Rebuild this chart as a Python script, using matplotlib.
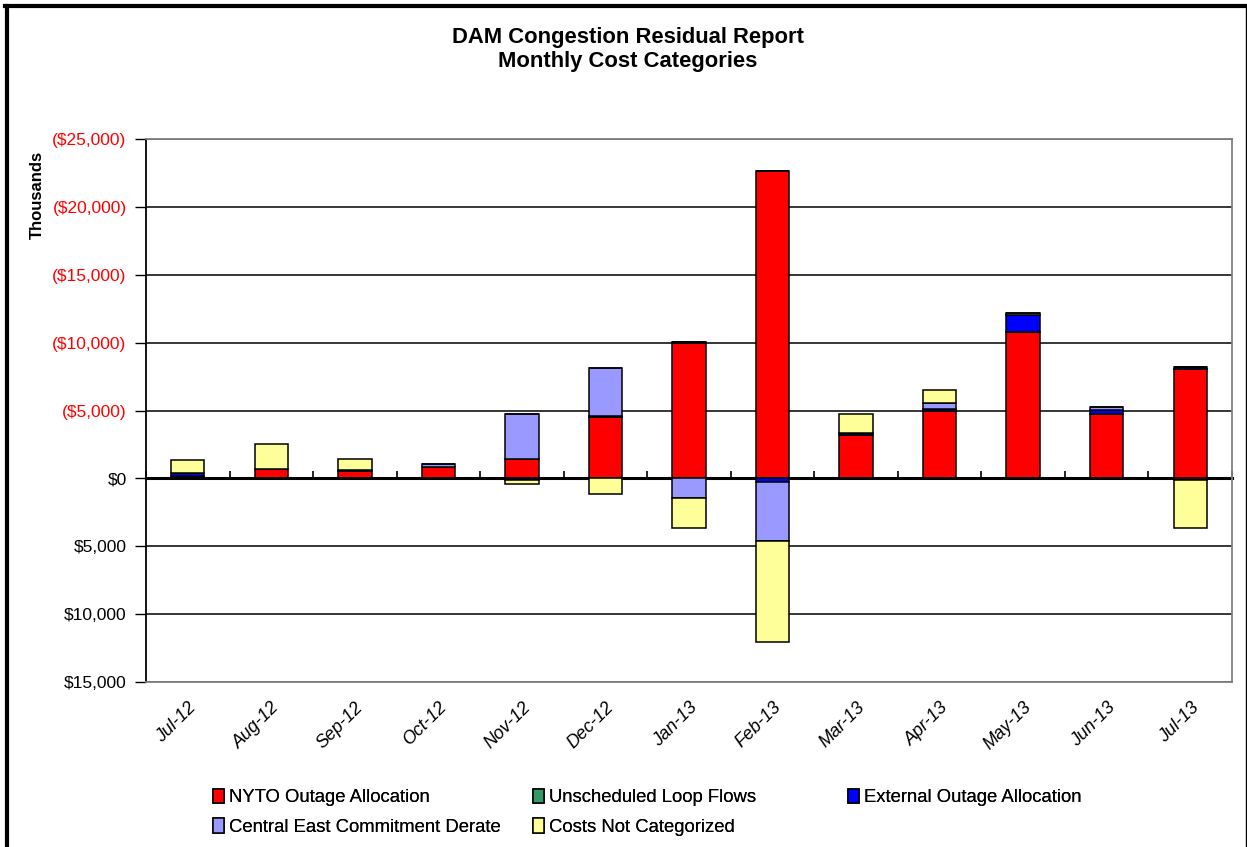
import numpy as np
import matplotlib.pyplot as plt
from matplotlib.lines import Line2D
from matplotlib.ticker import FixedLocator

plt.rcParams["font.family"] = ["Liberation Sans", "DejaVu Sans"]

# values in thousands of $, positive = cost (plotted upward)
months = ["Jul-12", "Aug-12", "Sep-12", "Oct-12", "Nov-12", "Dec-12", "Jan-13",
          "Feb-13", "Mar-13", "Apr-13", "May-13", "Jun-13", "Jul-13"]
nyto = [200, 660, 515, 810, 1400, 4490, 9940, 22660, 3220, 4930, 10800, 4740, 8050]
loop_flows = [0, 0, 0, 0, 0, 0, 0, 0, 0, 0, 0, 0, 0]
external = [180, 0, 100, 0, -100, 100, 80, -300, 100, 150, 1250, 320, 150]
central_east = [0, 0, 0, 250, 3340, 3530, -1420, -4320, 0, 490, 100, 170, 0]
not_categorized = [1000, 1870, 785, 0, -300, -1130, -2260, -7440, 1420, 930, 0, 0, -3510]
jul13_neg_nyto = -150

series = [
    ("NYTO Outage Allocation", nyto, "#FF0000"),
    ("Unscheduled Loop Flows", loop_flows, "#339966"),
    ("External Outage Allocation", external, "#0000FF"),
    ("Central East Commitment Derate", central_east, "#9999FF"),
    ("Costs Not Categorized", not_categorized, "#FFFF99"),
]

fig = plt.figure(figsize=(12.47, 8.47), dpi=100)
ax = fig.add_axes([146 / 1247, 1 - 682 / 847, 1086 / 1247, 543 / 847])

x = np.arange(len(months))
width = 0.4
pos_base = np.zeros(len(months))
neg_base = np.zeros(len(months))
handles = {}
for name, vals, color in series:
    v = np.array(vals, dtype=float)
    if name == "NYTO Outage Allocation":
        v_neg = np.zeros(len(months))
        v_neg[-1] = jul13_neg_nyto
    else:
        v_neg = np.where(v < 0, v, 0)
    v_pos = np.where(v > 0, v, 0)
    b = ax.bar(x, v_pos, width, bottom=pos_base, color=color, edgecolor="black",
               linewidth=1.1, zorder=3)
    ax.bar(x, v_neg, width, bottom=neg_base, color=color, edgecolor="black",
           linewidth=1.1, zorder=3)
    pos_base += v_pos
    neg_base += v_neg
    handles[name] = b

ax.set_xlim(-0.5, len(months) - 0.5)
ax.set_ylim(-15000, 25000)
yt = np.arange(-15000, 25001, 5000)
ax.yaxis.set_major_locator(FixedLocator(yt))
labels = []
for t in yt:
    if t > 0:
        labels.append(f"(${t:,.0f})")
    elif t == 0:
        labels.append("$0")
    else:
        labels.append(f"${-t:,.0f}")
ax.set_yticklabels(labels, fontsize=12.5)
for lab, t in zip(ax.get_yticklabels(), yt):
    lab.set_color("#FF0000" if t > 0 else "black")
ax.tick_params(axis="y", direction="out", length=8, width=1, pad=6)

ax.set_xticks(x)
ax.set_xticklabels(months, rotation=45, ha="right", rotation_mode="anchor",
                   fontsize=13, style="italic")
ax.tick_params(axis="x", length=0, pad=12)

ax.grid(axis="y", color="black", linewidth=1.1, zorder=0)
ax.set_axisbelow(True)
for s in ["top", "right", "bottom"]:
    ax.spines[s].set_color("#808080")
    ax.spines[s].set_linewidth(1.3)
ax.spines["left"].set_color("black")
ax.spines["left"].set_linewidth(1.3)

# category axis crossing at zero
sec = ax.secondary_xaxis(0, transform=ax.transData)
sec.set_xticks(np.arange(len(months) + 1) - 0.5)
sec.set_xticklabels([])
sec.tick_params(direction="in", length=5, width=1.2)
sec.spines["bottom"].set_linewidth(2.2)
sec.spines["bottom"].set_zorder(5)

fig.text(37 / 1247, 1 - 195 / 847, "Thousands", rotation=90, ha="center",
         va="center", fontsize=12, fontweight="bold")
fig.text(628 / 1247, 1 - 38 / 847, "DAM Congestion Residual Report", ha="center",
         va="center", fontsize=15.8, fontweight="bold")
fig.text(628 / 1247, 1 - 62 / 847, "Monthly Cost Categories", ha="center",
         va="center", fontsize=15.8, fontweight="bold")

# legend: three equal-width columns, like the spreadsheet
columns = [
    (213, ["NYTO Outage Allocation", "Central East Commitment Derate"]),
    (533, ["Unscheduled Loop Flows", "Costs Not Categorized"]),
    (848, ["External Outage Allocation"]),
]
for xpos, names in columns:
    leg = fig.legend([handles[n] for n in names], names, loc="upper left",
                     bbox_to_anchor=(xpos / 1247, 1 - 789 / 847), frameon=False,
                     fontsize=13.3, handlelength=0.6, handleheight=0.8,
                     handletextpad=0.25, labelspacing=0.65, borderpad=0,
                     borderaxespad=0)
    fig.add_artist(leg)

# outer chart frame
fig.add_artist(Line2D([6.5 / 1247, 6.5 / 1247], [0, 1 - 6 / 847], color="black",
                      linewidth=3, transform=fig.transFigure))
fig.add_artist(Line2D([5 / 1247, 1245.5 / 1247], [1 - 6 / 847, 1 - 6 / 847],
                      color="black", linewidth=3, transform=fig.transFigure))
fig.add_artist(Line2D([1245.5 / 1247, 1245.5 / 1247], [0, 1 - 6 / 847],
                      color="black", linewidth=1, transform=fig.transFigure))

fig.savefig("out.png", dpi=100)
